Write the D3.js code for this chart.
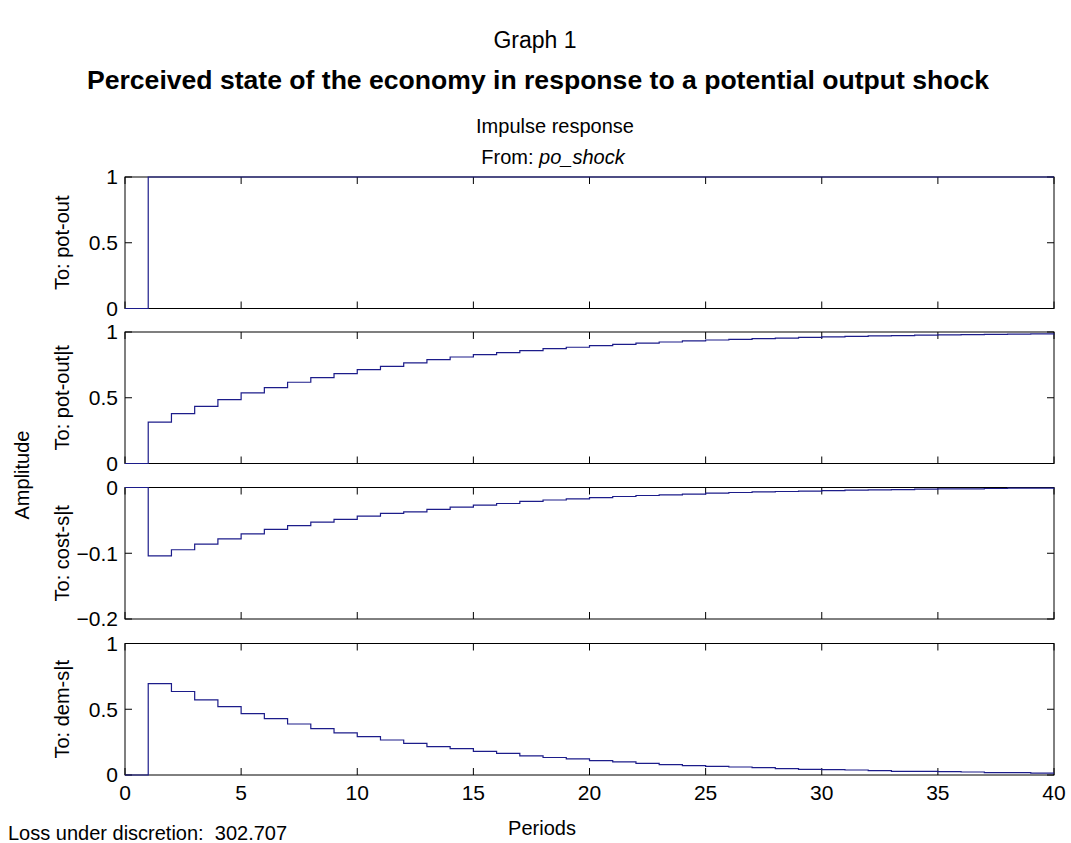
<!DOCTYPE html>
<html>
<head>
<meta charset="utf-8">
<script src="https://cdn.jsdelivr.net/npm/d3@7"></script>
<style>
  body { margin: 0; background: #fff; }
  svg { display: block; font-family: "Liberation Sans", Arial, sans-serif; }
</style>
</head>
<body>
<svg id="chart" width="1071" height="843"></svg>
<script>
// periods 0..40
const periods = d3.range(0, 41);
const xTicks = [0, 5, 10, 15, 20, 25, 30, 35, 40];

const outputNames = ["To: pot-out", "To: pot-out|t", "To: cost-s|t", "To: dem-s|t"];

const potOut = [0, 1, 1, 1, 1, 1, 1, 1, 1, 1, 1, 1, 1, 1, 1, 1, 1, 1, 1, 1, 1,
  1, 1, 1, 1, 1, 1, 1, 1, 1, 1, 1, 1, 1, 1, 1, 1, 1, 1, 1, 1];
const potOutT = [0, 0.314, 0.38, 0.435, 0.486, 0.537, 0.577, 0.618, 0.653, 0.684, 0.714,
  0.739, 0.765, 0.79, 0.81, 0.828, 0.843, 0.858, 0.873, 0.884, 0.896,
  0.906, 0.916, 0.924, 0.932, 0.939, 0.944, 0.949, 0.954, 0.959, 0.963,
  0.967, 0.970, 0.973, 0.976, 0.978, 0.980, 0.982, 0.984, 0.985, 0.986];
const costST = [0, -0.104, -0.0947, -0.086, -0.078, -0.0704, -0.0638, -0.058, -0.0527, -0.0486, -0.0435,
  -0.0395, -0.037, -0.0334, -0.0299, -0.0268, -0.0243, -0.021, -0.019, -0.0172, -0.0155,
  -0.0137, -0.0122, -0.0112, -0.0102, -0.0087, -0.0076, -0.0066, -0.0061, -0.0056, -0.0046,
  -0.0041, -0.0036, -0.0031, -0.0026, -0.002, -0.002, -0.0015, -0.001, -0.001, -0.0008];
const demST = [0, 0.695, 0.635, 0.571, 0.52, 0.467, 0.429, 0.388, 0.353, 0.32, 0.292,
  0.266, 0.241, 0.216, 0.2, 0.18, 0.165, 0.145, 0.133, 0.122, 0.11,
  0.0995, 0.089, 0.079, 0.071, 0.066, 0.061, 0.056, 0.048, 0.043, 0.041,
  0.038, 0.033, 0.028, 0.027, 0.026, 0.023, 0.018, 0.018, 0.015, 0.015];

const yDomains = [[0, 1], [0, 1], [-0.2, 0], [0, 1]];
const yTicks = [[0, 0.5, 1], [0, 0.5, 1], [-0.2, -0.1, 0], [0, 0.5, 1]];
const series = [potOut, potOutT, costST, demST];

const lossText = "Loss under discretion:  302.707";

// layout
const left = 125, right = 1054;
const panelTops = [177, 332, 487.5, 643.5];
const panelH = 131.5;
const tickLen = 7;
const lineColor = "#1c1c8a";
const fs = 20; // base font size

const svg = d3.select("#chart");

const x = d3.scaleLinear().domain([0, 40]).range([left, right]);

const fmt = v => (v < 0 ? "\u2212" : "") + String(Math.abs(v));

// titles
svg.append("text")
  .attr("x", 535).attr("y", 48)
  .attr("text-anchor", "middle")
  .attr("font-size", 23)
  .text("Graph 1");

svg.append("text")
  .attr("x", 538).attr("y", 89)
  .attr("text-anchor", "middle")
  .attr("font-size", 25)
  .attr("font-weight", "bold")
  .style("font-family", "'Liberation Sans Narrow', 'Liberation Sans', Arial, sans-serif")
  .attr("textLength", 902)
  .attr("lengthAdjust", "spacingAndGlyphs")
  .text("Perceived state of the economy in response to a potential output shock");

svg.append("text")
  .attr("x", 555).attr("y", 133)
  .attr("text-anchor", "middle")
  .attr("font-size", fs)
  .text("Impulse response");

const fromText = svg.append("text")
  .attr("x", 553).attr("y", 164)
  .attr("text-anchor", "middle")
  .attr("font-size", fs);
fromText.append("tspan").text("From: ");
fromText.append("tspan").attr("font-style", "italic").text("po_shock");

// panels
series.forEach((vals, i) => {
  const top = panelTops[i], bottom = top + panelH;
  const y = d3.scaleLinear().domain(yDomains[i]).range([bottom, top]);
  const g = svg.append("g").attr("class", "panel");

  // frame
  g.append("rect")
    .attr("x", left).attr("y", top)
    .attr("width", right - left).attr("height", panelH)
    .attr("fill", "none")
    .attr("stroke", "#000")
    .attr("stroke-width", 1);

  // x ticks, top and bottom, inward
  xTicks.forEach(t => {
    g.append("line")
      .attr("x1", x(t)).attr("x2", x(t))
      .attr("y1", bottom).attr("y2", bottom - tickLen)
      .attr("stroke", "#000");
    g.append("line")
      .attr("x1", x(t)).attr("x2", x(t))
      .attr("y1", top).attr("y2", top + tickLen)
      .attr("stroke", "#000");
  });

  // y ticks, left and right, inward
  yTicks[i].forEach(v => {
    g.append("line")
      .attr("x1", left).attr("x2", left + tickLen)
      .attr("y1", y(v)).attr("y2", y(v))
      .attr("stroke", "#000");
    g.append("line")
      .attr("x1", right).attr("x2", right - tickLen)
      .attr("y1", y(v)).attr("y2", y(v))
      .attr("stroke", "#000");
    g.append("text")
      .attr("x", left - 7).attr("y", y(v))
      .attr("dy", "0.35em")
      .attr("text-anchor", "end")
      .attr("font-size", 21)
      .text(fmt(v));
  });

  // step response
  const line = d3.line()
    .x((d, k) => x(periods[k]))
    .y(d => y(d))
    .curve(d3.curveStepAfter);

  g.append("path")
    .datum(vals)
    .attr("d", line)
    .attr("fill", "none")
    .attr("stroke", lineColor)
    .attr("stroke-width", 1.2);

  // output label
  g.append("text")
    .attr("transform", `translate(69,${top + panelH / 2}) rotate(-90)`)
    .attr("text-anchor", "middle")
    .attr("font-size", fs)
    .text(outputNames[i]);
});

// x tick labels below last panel
const lastBottom = panelTops[3] + panelH;
xTicks.forEach(t => {
  svg.append("text")
    .attr("x", x(t)).attr("y", lastBottom + 25)
    .attr("text-anchor", "middle")
    .attr("font-size", 21)
    .text(t);
});

svg.append("text")
  .attr("x", 542).attr("y", 835)
  .attr("text-anchor", "middle")
  .attr("font-size", fs)
  .text("Periods");

svg.append("text")
  .attr("transform", "translate(29,475) rotate(-90)")
  .attr("text-anchor", "middle")
  .attr("font-size", fs)
  .text("Amplitude");

svg.append("text")
  .attr("x", 8).attr("y", 840)
  .attr("font-size", fs)
  .style("white-space", "pre")
  .text(lossText);
</script>
</body>
</html>
